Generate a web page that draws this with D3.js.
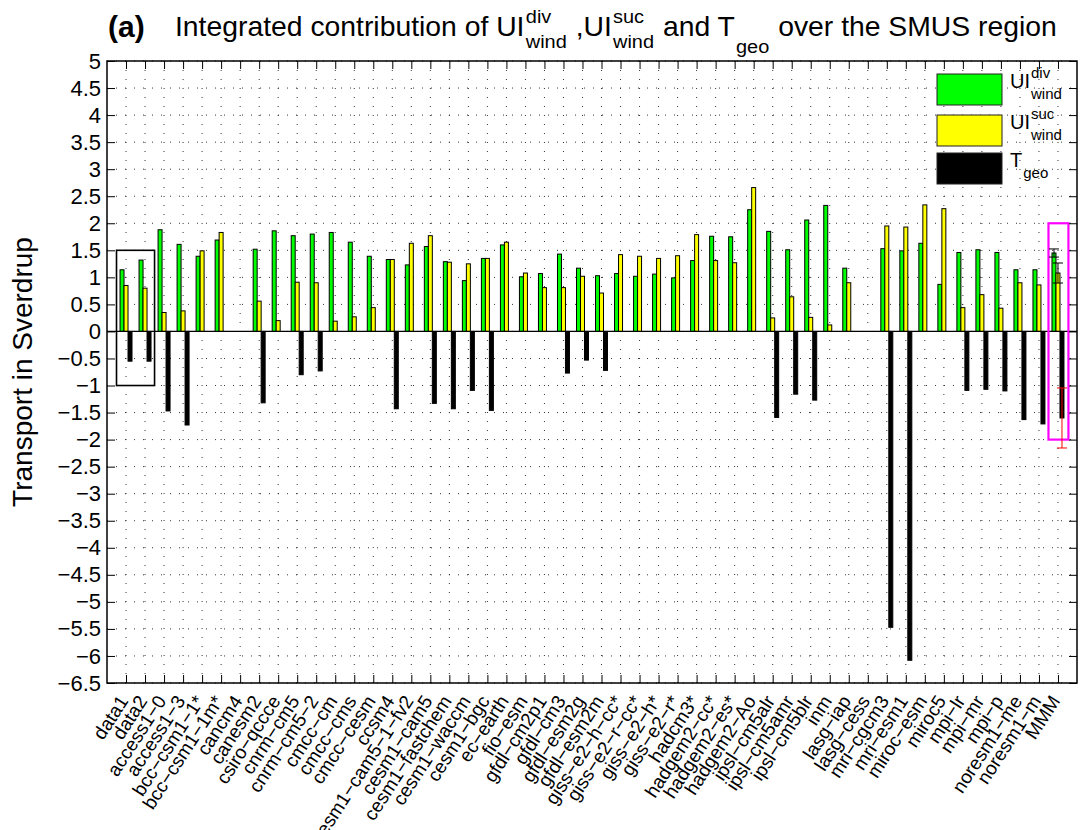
<!DOCTYPE html>
<html>
<head>
<meta charset="utf-8">
<script src="https://cdn.jsdelivr.net/npm/d3@7"></script>
<style>
body { margin: 0; background: #fff; }
text { font-family: "Liberation Sans", Arial, Helvetica, sans-serif; white-space: pre; }
</style>
</head>
<body>
<div id="chart"></div>
<script>
// model names along the x axis
var categories = ["data1", "data2", "access1-0", "access1-3", "bcc-csm1-1*", "bcc-csm1-1m*", "cancm4",
  "canesm2", "csiro-qccce", "cnrm-cm5", "cnrm-cm5-2", "cmcc-cm", "cmcc-cms", "cmcc-cesm", "ccsm4",
  "cesm1-cam5-1-fv2", "cesm1-cam5", "cesm1-fastchem", "cesm1-waccm", "cesm1-bgc", "ec-earth", "fio-esm",
  "gfdl-cm2p1", "gfdl-cm3", "gfdl-esm2g", "gfdl-esm2m", "giss-e2-h-cc*", "giss-e2-r-cc*", "giss-e2-h*",
  "giss-e2-r*", "hadcm3*", "hadgem2-cc*", "hadgem2-es*", "hadgem2-Ao", "ipsl-cm5alr", "ipsl-cm5amr",
  "ipsl-cm5blr", "inm", "lasg-iap", "lasg-cess", "mri-cgcm3", "mri-esm1", "miroc-esm", "miroc5",
  "mpi-lr", "mpi-mr", "mpi-p", "noresm1-me", "noresm1-m", "MMM"];

var uiDiv = [1.14, 1.32, 1.88, 1.61, 1.39, 1.69, 0, 1.52, 1.86, 1.77, 1.80, 1.83, 1.65, 1.39, 1.33,
  1.23, 1.57, 1.29, 0.94, 1.35, 1.60, 1.01, 1.07, 1.43, 1.17, 1.03, 1.07, 1.02, 1.06, 0.99, 1.31,
  1.76, 1.75, 2.25, 1.85, 1.51, 2.06, 2.33, 1.17, 0, 1.53, 1.49, 1.63, 0.87, 1.46, 1.51, 1.46,
  1.14, 1.14, 1.45];

var uiSuc = [0.85, 0.80, 0.35, 0.38, 1.49, 1.83, 0, 0.56, 0.20, 0.91, 0.90, 0.19, 0.27, 0.44, 1.33,
  1.63, 1.77, 1.28, 1.25, 1.35, 1.65, 1.08, 0.81, 0.81, 1.02, 0.71, 1.42, 1.39, 1.35, 1.40, 1.79,
  1.31, 1.27, 2.66, 0.25, 0.64, 0.26, 0.12, 0.90, 0, 1.95, 1.93, 2.34, 2.27, 0.44, 0.68, 0.43,
  0.90, 0.86, 1.08];

var tGeo = [-0.55, -0.55, -1.47, -1.73, 0, 0, 0, -1.32, 0, -0.80, -0.73, 0, 0, 0, -1.43,
  0, -1.33, -1.43, -1.09, -1.46, 0, 0, 0, -0.77, -0.53, -0.72, 0, 0, 0, 0, 0,
  0, 0, 0, -1.59, -1.16, -1.27, 0, 0, 0, -5.47, -6.08, 0, 0, -1.09, -1.07, -1.10,
  -1.63, -1.71, -1.60];

// spread of the multi-model mean (MMM) for each series
var mmmErr = [0.075, 0.185, 0.555];

var yTicks = d3.range(-6.5, 5.01, 0.5);

var W = 1080, H = 830;
var pL = 107, pR = 1077, pT = 61, pB = 683;

var svg = d3.select("#chart").append("svg")
    .attr("width", W)
    .attr("height", H);

var x = d3.scaleLinear().domain([0, 51]).range([pL, pR]);
var y = d3.scaleLinear().domain([-6.5, 5]).range([pB, pT]);

function minus(s) { return String(s).replace(/-/g, "\u2212"); }

// dotted grid
var grid = svg.append("g");
grid.selectAll("line.v")
    .data(d3.range(1, 51))
    .enter().append("line")
    .attr("x1", function(d) { return x(d); })
    .attr("x2", function(d) { return x(d); })
    .attr("y1", pT).attr("y2", pB)
    .attr("stroke", "#333").attr("stroke-width", 1)
    .attr("stroke-dasharray", "1,8");
grid.selectAll("line.h")
    .data(yTicks)
    .enter().append("line")
    .attr("x1", pL).attr("x2", pR)
    .attr("y1", function(d) { return y(d); })
    .attr("y2", function(d) { return y(d); })
    .attr("stroke", "#333").attr("stroke-width", 1)
    .attr("stroke-dasharray", "1,8");

// bars
var bw = 0.21;
var series = [
  {vals: uiDiv, fill: "#00ff00", off: -1},
  {vals: uiSuc, fill: "#ffff00", off: 0},
  {vals: tGeo, fill: "#000", off: 1}
];

series.forEach(function(s) {
  svg.append("g").selectAll("rect")
    .data(s.vals)
    .enter().append("rect")
    .attr("x", function(d, i) { return x(i + 1 + s.off * bw - bw / 2); })
    .attr("width", x(bw) - x(0))
    .attr("y", function(d) { return y(Math.max(0, d)); })
    .attr("height", function(d) { return Math.abs(y(d) - y(0)); })
    .attr("fill", s.fill)
    .attr("stroke", "#000")
    .attr("stroke-width", 1);
});

// baseline
svg.append("line")
    .attr("x1", pL).attr("x2", pR)
    .attr("y1", y(0)).attr("y2", y(0))
    .attr("stroke", "#000").attr("stroke-width", 1.2);

// highlight boxes
svg.append("rect")
    .attr("x", x(0.5)).attr("y", y(1.5))
    .attr("width", x(2.5) - x(0.5)).attr("height", y(-1) - y(1.5))
    .attr("fill", "none").attr("stroke", "#000").attr("stroke-width", 1.6);
svg.append("rect")
    .attr("x", x(49.5)).attr("y", y(2))
    .attr("width", x(50.55) - x(49.5)).attr("height", y(-2) - y(2))
    .attr("fill", "none").attr("stroke", "#ff00ff").attr("stroke-width", 2.2);

// error bars on MMM
var last = categories.length - 1;
var errCols = ["#000", "#000", "#ff0000"];
series.forEach(function(s, k) {
  var cx = x(last + 1 + s.off * bw);
  var v = s.vals[last], e = mmmErr[k];
  var g = svg.append("g").attr("stroke", errCols[k]).attr("stroke-width", 1);
  g.append("line").attr("x1", cx).attr("x2", cx).attr("y1", y(v + e)).attr("y2", y(v - e));
  [v + e, v - e].forEach(function(t) {
    g.append("line").attr("x1", cx - 5).attr("x2", cx + 5).attr("y1", y(t)).attr("y2", y(t));
  });
});

// axes, ticks pointing inward
var fmtY = function(d) { return minus(d3.format("")(+d.toFixed(1))); };
var gl = svg.append("g").attr("transform", "translate(" + pL + ",0)")
    .call(d3.axisLeft(y).tickValues(yTicks).tickSize(-8).tickPadding(6).tickFormat(fmtY));
gl.selectAll("text").style("font-size", "22px").attr("fill", "#000");
svg.append("g").attr("transform", "translate(" + pR + ",0)")
    .call(d3.axisRight(y).tickValues(yTicks).tickSize(-8).tickFormat(""));
svg.append("g").attr("transform", "translate(0," + pB + ")")
    .call(d3.axisBottom(x).tickValues(d3.range(1, 51)).tickSize(-8).tickFormat(""));
svg.append("g").attr("transform", "translate(0," + pT + ")")
    .call(d3.axisTop(x).tickValues(d3.range(1, 51)).tickSize(-8).tickFormat(""));
svg.selectAll(".domain").remove();
svg.selectAll(".tick line").attr("stroke", "#000");

svg.append("rect")
    .attr("x", pL).attr("y", pT)
    .attr("width", pR - pL).attr("height", pB - pT)
    .attr("fill", "none").attr("stroke", "#000").attr("stroke-width", 1.5);

// rotated category labels
svg.append("g").selectAll("text")
    .data(categories)
    .enter().append("text")
    .attr("transform", function(d, i) { return "translate(" + (x(i + 1) + 3) + "," + (pB + 18) + ") rotate(-57)"; })
    .attr("text-anchor", "end")
    .style("font-size", "19px")
    .text(function(d) { return minus(d); });

// y label
svg.append("text")
    .attr("transform", "translate(32," + ((pT + pB) / 2) + ") rotate(-90)")
    .attr("text-anchor", "middle")
    .style("font-size", "28px")
    .text("Transport in Sverdrup");

// text with stacked super/subscripts
function richText(g, parts, size, small, supDy, subDy) {
  var cx = 0;
  parts.forEach(function(p) {
    var t = g.append("text").attr("x", cx).attr("y", 0).style("font-size", size + "px").text(p.t);
    cx += t.node().getComputedTextLength();
    var w = 0;
    if (p.sup) {
      var a = g.append("text").attr("x", cx + 1).attr("y", supDy).style("font-size", small + "px").text(p.sup);
      w = Math.max(w, a.node().getComputedTextLength());
    }
    if (p.sub) {
      var b = g.append("text").attr("x", cx + 1).attr("y", p.subDy || subDy).style("font-size", small + "px").text(p.sub);
      w = Math.max(w, b.node().getComputedTextLength());
    }
    if (w) cx += w + 2;
  });
  return cx;
}

// title
svg.append("text")
    .attr("x", 108).attr("y", 37)
    .style("font-size", "30px").style("font-weight", "bold")
    .text("(a)");
var tg = svg.append("g");
var tw = richText(tg, [
  {t: "Integrated contribution of UI", sup: "div", sub: "wind"},
  {t: " ,UI", sup: "suc", sub: "wind"},
  {t: " and T", sub: "geo", subDy: 17},
  {t: " over the SMUS region"}
], 27, 19, -13, 12);
tg.attr("transform", "translate(175,36) scale(" + (882 / tw) + ",1)");

// legend
var legendItems = [
  {fill: "#00ff00", parts: [{t: "UI", sup: "div", sub: "wind"}]},
  {fill: "#ffff00", parts: [{t: "UI", sup: "suc", sub: "wind"}]},
  {fill: "#000", parts: [{t: "T", sub: "geo"}]}
];
var legTop = [74, 115, 153];
legendItems.forEach(function(it, i) {
  svg.append("rect")
      .attr("x", 937).attr("y", legTop[i])
      .attr("width", 65).attr("height", 31)
      .attr("fill", it.fill).attr("stroke", "#222").attr("stroke-width", 1);
  var g = svg.append("g").attr("transform", "translate(1010," + (legTop[i] + 14) + ")");
  richText(g, it.parts, 20, 15, -10, 11);
});
</script>
</body>
</html>
